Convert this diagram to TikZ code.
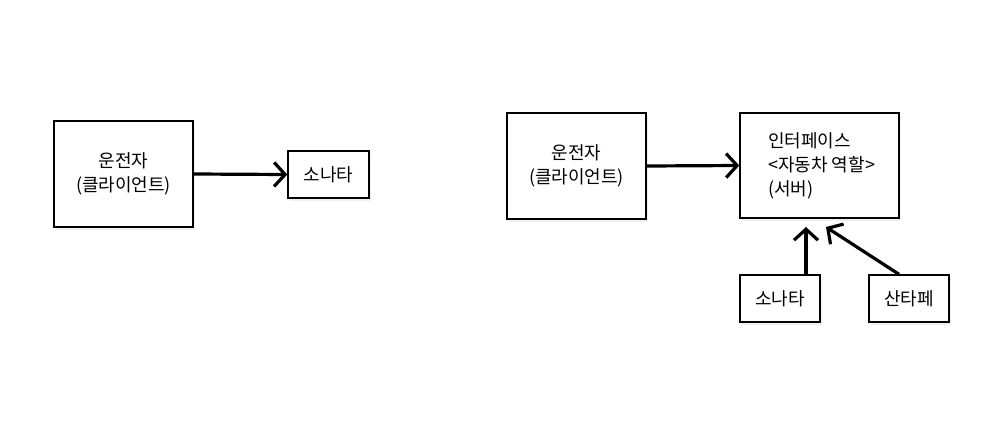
\documentclass[tikz,border=0pt]{standalone}
\usepackage{fontspec}
\setmainfont{Noto Sans CJK KR}
\usetikzlibrary{arrows.meta,shadows}
\begin{document}
\begin{tikzpicture}[x=1pt,y=-1pt,
  box/.style={draw=black,line width=1.4pt,fill=white,inner sep=0pt,align=center,
    font=\fontsize{18}{24}\selectfont,
    drop shadow={opacity=0.12,shadow xshift=2pt,shadow yshift=-3pt}},
  lbl/.style={inner sep=0pt,align=left,font=\fontsize{18}{24}\selectfont},
  arr/.style={line width=3.2pt,-{Straight Barb[length=11pt,width=24pt,line width=3.2pt]}}]
\useasboundingbox (0,0) rectangle (1002,432);
\node[box,minimum width=139pt,minimum height=106pt] (c1) at (123.5,174) {운전자\\(클라이언트)};
\node[box,minimum width=81pt,minimum height=47pt] (s1) at (328.5,174.5) {소나타};
\draw[arr] (c1.east) -- (s1.west);
\node[box,minimum width=139pt,minimum height=106pt] (c2) at (576.5,166) {운전자\\(클라이언트)};
\node[box,minimum width=159pt,minimum height=105pt] (i) at (819.5,165.5) {};
\node[lbl,anchor=west] (it) at (768,166) {인터페이스\\<자동차 역할>\\(서버)};
\draw[arr] (c2.east) -- (i.west);
\node[box,minimum width=80pt,minimum height=47pt] (s2) at (780,298.5) {소나타};
\node[box,minimum width=80pt,minimum height=47pt] (s3) at (909,298.5) {산타페};
\coordinate (t1) at (806,227);
\coordinate (t2) at (826,227);
\draw[arr] (s2.north -| t1) -- (t1);
\draw[arr] (s3.north -| 899,0) -- (t2);
\end{tikzpicture}
\end{document}
